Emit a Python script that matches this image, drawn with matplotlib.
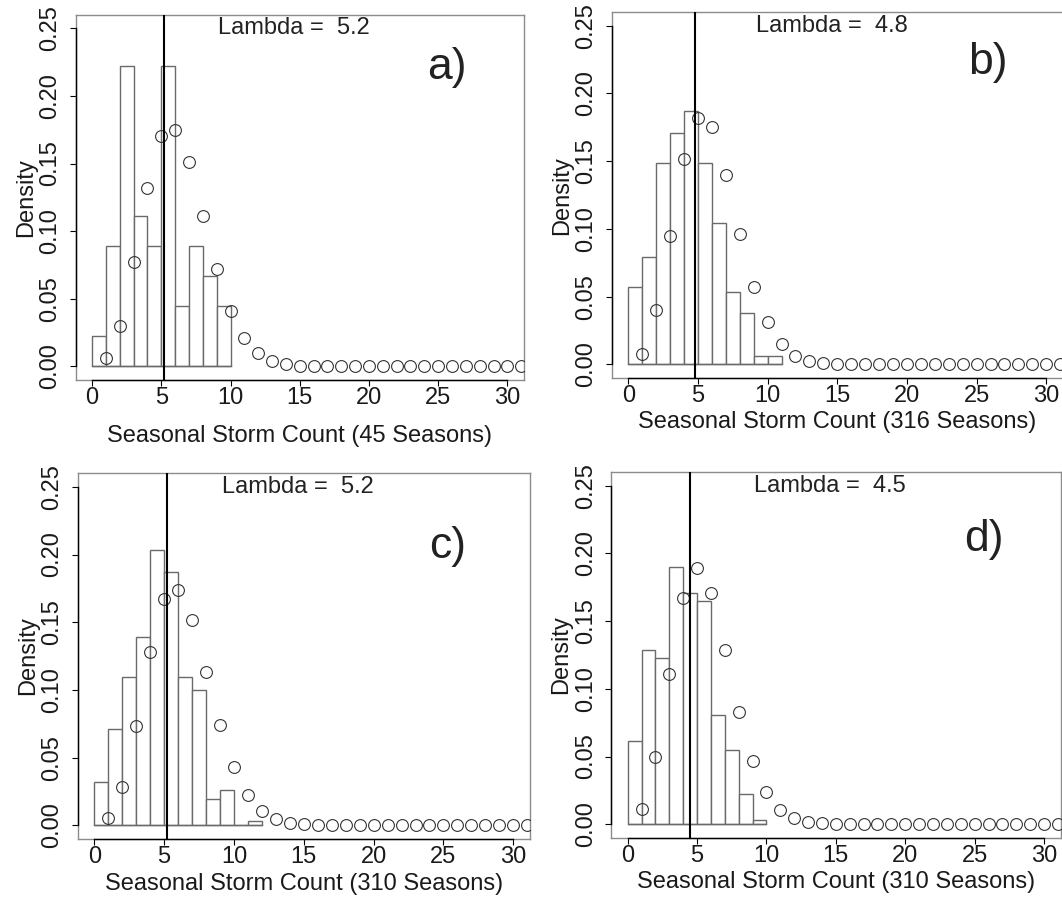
import numpy as np
import matplotlib
matplotlib.use('Agg')
import matplotlib.pyplot as plt

plt.rcParams['font.family'] = ['Liberation Sans', 'DejaVu Sans']

# histogram counts per unit bin (starting at 0), number of seasons
counts_a = [1, 4, 10, 5, 4, 10, 2, 4, 3, 2]
counts_b = [18, 25, 47, 54, 59, 47, 33, 17, 12, 2, 2]
counts_c = [10, 22, 34, 43, 63, 58, 34, 31, 6, 8, 0, 1]
counts_d = [19, 40, 38, 59, 53, 51, 25, 17, 7, 1]
seasons = [45, 316, 310, 310]

# poisson probabilities (circles), plotted at x = 1..31
pois_x = np.arange(1, 32)
pois_a = [0.006, 0.030, 0.077, 0.132, 0.170, 0.175, 0.151, 0.111, 0.072, 0.041,
          0.021, 0.010, 0.004, 0.0015, 0.0005] + [0.0] * 16
pois_b = [0.008, 0.040, 0.095, 0.152, 0.182, 0.175, 0.140, 0.096, 0.057, 0.031,
          0.015, 0.006, 0.0027, 0.0012, 0.0005] + [0.0] * 16
pois_c = [0.0055, 0.028, 0.073, 0.128, 0.167, 0.174, 0.152, 0.113, 0.074, 0.043,
          0.022, 0.0106, 0.0047, 0.002, 0.0008] + [0.0] * 16
pois_d = [0.011, 0.050, 0.111, 0.167, 0.189, 0.171, 0.129, 0.083, 0.047, 0.024,
          0.0106, 0.0047, 0.002, 0.0007] + [0.0] * 17

lambdas = [5.2, 4.8, 5.2, 4.5]
letters = ['a)', 'b)', 'c)', 'd)']

W, H = 1062, 911
fig = plt.figure(figsize=(W / 100, H / 100), dpi=100)

# panel boxes in pixels: left, right, top, bottom
boxes = [(75.5, 524, 14.7, 380), (611.5, 1063, 12.2, 378),
         (77.6, 530, 473.3, 838.8), (611, 1060.7, 472.2, 837.8)]
letter_pos = [(25.6, 0.221), (25.8, 0.223), (25.3, 0.206), (25.7, 0.210)]
xlabpad = [11, 2.5, 3.5, 3]

all_counts = [counts_a, counts_b, counts_c, counts_d]
all_pois = [pois_a, pois_b, pois_c, pois_d]

for i in range(4):
    l, r, t, b = boxes[i]
    ax = fig.add_axes([l / W, 1 - b / H, (r - l) / W, (b - t) / H])
    cnt = np.array(all_counts[i])
    dens = cnt / seasons[i]
    edges = np.arange(len(cnt))
    ax.bar(edges, dens, width=1, align='edge', color='white',
           edgecolor='#6a6a6a', linewidth=1.0, zorder=2)
    # baseline of histogram
    ax.plot([0, len(cnt)], [0, 0], color='#6a6a6a', lw=1.0, zorder=2)
    ax.plot(pois_x, all_pois[i], 'o', mfc='none', mec='#333333', ms=8.5, mew=0.8,
            zorder=3)
    ax.axvline(lambdas[i], color='black', lw=1.5, zorder=4)
    ax.text(14.6, 0.25, 'Lambda =  %.1f' % lambdas[i], ha='center', va='center',
            fontsize=17, color='#222222')
    lx, ly = letter_pos[i]
    ax.text(lx, ly, letters[i], ha='center', va='center', fontsize=32,
            color='#222222')

    ax.set_xlim(-1.2, 31.2)
    ax.set_ylim(-0.01, 0.26)
    ax.set_xticks(np.arange(0, 31, 5))
    ax.set_yticks(np.arange(0, 0.26, 0.05))
    ax.set_yticklabels(['%.2f' % v for v in np.arange(0, 0.26, 0.05)])
    for s in ax.spines.values():
        s.set_color('#8c8c8c')
        s.set_linewidth(1.0)
    # black axis lines from first to last tick
    ax.plot([0, 30], [0, 0], color='black', lw=1.0,
            transform=ax.get_xaxis_transform(), clip_on=False, zorder=5)
    ax.plot([0, 0], [0, 0.25], color='black', lw=1.0,
            transform=ax.get_yaxis_transform(), clip_on=False, zorder=5)
    ax.tick_params(direction='out', length=4.3, width=0.8, color='black',
                   labelsize=17, labelcolor='#1a1a1a')
    ax.tick_params(axis='x', pad=1.0)
    ax.tick_params(axis='y', pad=6.0, labelrotation=90)
    for lab in ax.get_yticklabels():
        lab.set_va('center')
    ax.set_xlabel('Seasonal Storm Count (%d Seasons)' % seasons[i],
                  fontsize=17, labelpad=xlabpad[i], color='#1a1a1a')
    ax.set_ylabel('Density', fontsize=17, labelpad=1.5, color='#1a1a1a')

fig.savefig('out.png', dpi=100)
